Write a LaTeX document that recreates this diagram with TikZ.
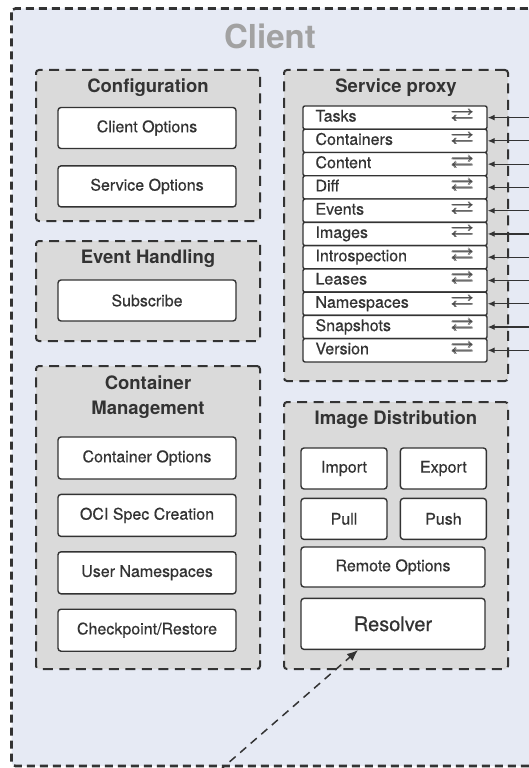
\documentclass[tikz,border=0pt]{standalone}
\usepackage{amsmath, amssymb}
\usepackage{fontspec}
\setmainfont{TeX Gyre Heros}
\newfontfamily\medfont[FakeBold=0.45]{TeX Gyre Heros}
\usetikzlibrary{positioning, arrows.meta}

\definecolor{clientbg}{HTML}{E6EAF4}
\definecolor{groupbg}{HTML}{DADADA}
\definecolor{ink}{HTML}{333333}
\definecolor{titlegray}{HTML}{A2A2A2}

\newcommand\both{\scalebox{1.45}[1.15]{$\pmb{\rightleftarrows}$}}

\tikzset{
  clientframe/.style={draw=ink, fill=clientbg, line width=2.6pt, dash pattern=on 8pt off 5pt, rounded corners=4pt},
  group/.style={draw=ink, fill=groupbg, line width=2pt, dash pattern=on 10pt off 6.5pt, rounded corners=3pt, anchor=north west, inner sep=0pt},
  grouptitle/.style={text=ink, font=\fontsize{18.5}{25}\selectfont\bfseries, align=center, inner sep=0pt},
  item/.style={draw=ink, fill=white, line width=1.4pt, rounded corners=3pt, minimum width=178pt, minimum height=41pt, text=ink, font=\medfont\fontsize{16}{19}\selectfont, inner sep=0pt},
  row/.style={draw=ink, fill=white, line width=1.4pt, rounded corners=2pt, minimum height=23.3pt, text width=159pt, inner xsep=12.5pt, inner ysep=0pt, text height=11.5pt, text depth=3.5pt, text=ink, font=\medfont\fontsize{16}{19}\selectfont},
  wire/.style={draw=ink, line width=1.2pt, -{Latex[length=7pt,width=6pt]}},
  depends/.style={draw=ink, line width=1.5pt, dash pattern=on 8pt off 6pt, -{Latex[length=11pt,width=9pt]}},
}

\begin{document}
\begin{tikzpicture}[x=1pt, y=-1pt]
  \useasboundingbox (0,0) rectangle (529,768);
  \clip (0,0) rectangle (529,768);

  % client
  \draw[clientframe] (11.5,8.5) rectangle (570,766);
  \node[text=titlegray, font=\fontsize{33}{33}\selectfont\bfseries] (client) at (270,36) {Client};

  % configuration
  \node[group, minimum width=224pt, minimum height=151pt] (config) at (35,69) {};
  \node[grouptitle] (configtitle) at ([yshift=-19pt]config.north) {Configuration};
  \node[item] (clientopt) at (147,128) {Client Options};
  \node[item, below=16pt of clientopt] (serviceopt) {Service Options};

  % event handling
  \node[group, minimum width=224pt, minimum height=100pt] (events) at (35,240) {};
  \node[grouptitle] (eventstitle) at ([yshift=-19pt]events.north) {Event Handling};
  \node[item] (subscribe) at (147,300.5) {Subscribe};

  % container management
  \node[group, minimum width=224pt, minimum height=303pt] (cm) at (35,365) {};
  \node[grouptitle] (cmtitle) at ([yshift=-32pt]cm.north) {Container\\Management};
  \node[item, minimum height=42pt] (containeropt) at (147,458) {Container Options};
  \node[item, minimum height=42pt, below=14pt of containeropt] (ocispec) {OCI Spec Creation};
  \node[item, minimum height=42pt, below=14pt of ocispec] (userns) {User Namespaces};
  \node[item, minimum height=42pt, below=14pt of userns] (checkpoint) {Checkpoint/Restore};

  % service proxy
  \node[group, minimum width=224pt, minimum height=311pt] (proxy) at (283,69) {};
  \node[grouptitle] (proxytitle) at ([yshift=-19pt]proxy.north) {Service proxy};
  \foreach \svc [count=\i from 0] in {Tasks, Containers, Content, Diff, Events, Images,
      Introspection, Leases, Namespaces, Snapshots, Version} {
    \node[row] (row\i) at (395,117.6+23.27*\i) {\svc\hfill{\color{ink!90}\both}};
    \coordinate (in\i) at (531,117.6+23.27*\i);
    \draw[wire] (in\i) -- (row\i);
  }

  % image distribution
  \node[group, minimum width=224pt, minimum height=267pt] (dist) at (283,401) {};
  \node[grouptitle] (disttitle) at ([yshift=-19pt]dist.north) {Image Distribution};
  \node[item, minimum width=86pt] (import) at (344,468.5) {Import};
  \node[item, minimum width=86pt, right=12pt of import] (export) {Export};
  \node[item, minimum width=86pt, below=8pt of import] (pull) {Pull};
  \node[item, minimum width=86pt, below=8pt of export] (push) {Push};
  \node[item, minimum width=184pt, minimum height=40pt] (remote) at (393,567) {Remote Options};
  \node[item, minimum width=184pt, minimum height=51pt, below=10pt of remote,
        font=\medfont\fontsize{20}{24}\selectfont] (resolver) {Resolver};

  \coordinate (resolverin) at (219,771);
  \draw[depends] (resolverin) -- ([xshift=-35pt]resolver.south);
\end{tikzpicture}
\end{document}
